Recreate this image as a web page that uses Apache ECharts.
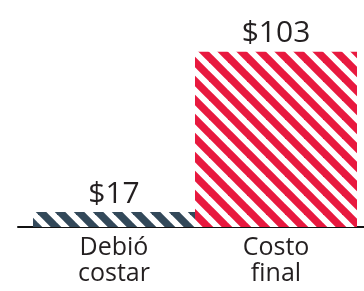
<!DOCTYPE html>
<html>
<head>
<meta charset="utf-8">
<script src="https://cdn.jsdelivr.net/npm/echarts@6/dist/echarts.min.js"></script>
<style>
  html, body { margin: 0; padding: 0; background: #fff; }
  #chart { width: 364px; height: 291px; }
</style>
</head>
<body>
<div id="chart"></div>
<script>
const categories = ['Debió\ncostar', 'Costo\nfinal'];
const costs = [17, 103];
const barColors = ['#33495a', '#e8193f'];

// diagonal stripe tile: "\" stripes over white, lines run past the tile edges
const stripes = (color, size, width) => {
  const c = document.createElement('canvas');
  c.width = size;
  c.height = size;
  const ctx = c.getContext('2d');
  ctx.fillStyle = '#fff';
  ctx.fillRect(0, 0, size, size);
  ctx.strokeStyle = color;
  ctx.lineWidth = width;
  [-size, 0, size].forEach(k => {
    ctx.beginPath();
    ctx.moveTo(k - size, -size);
    ctx.lineTo(k + 2 * size, 2 * size);
    ctx.stroke();
  });
  return { image: c, repeat: 'repeat' };
};

const chart = echarts.init(document.getElementById('chart'));
const font = '"Open Sans", "Noto Sans", sans-serif';

chart.setOption({
  animation: false,
  backgroundColor: '#fff',
  grid: [
    { left: 33, right: 7, top: 20, bottom: 64 },
    { left: 18, right: 0, top: 20, bottom: 64 }
  ],
  xAxis: [
    {
      type: 'category',
      data: categories,
      gridIndex: 0,
      axisLine: { show: false },
      axisTick: { show: false },
      axisLabel: {
        color: '#231f20',
        fontFamily: font,
        fontSize: 25,
        lineHeight: 26,
        margin: 8
      }
    },
    {
      type: 'category',
      gridIndex: 1,
      data: [''],
      axisLine: { lineStyle: { color: '#111', width: 2 } },
      axisTick: { show: false },
      axisLabel: { show: false }
    }
  ],
  yAxis: [
    { type: 'value', gridIndex: 0, min: 9, max: 120, show: false },
    { type: 'value', gridIndex: 1, show: false }
  ],
  series: [
    {
      type: 'bar',
      xAxisIndex: 0,
      yAxisIndex: 0,
      barCategoryGap: 0,
      clip: true,
      data: costs.map((v, i) => ({
        value: v,
        itemStyle: { color: stripes(barColors[i], 19, 7.5) }
      })),
      label: {
        show: true,
        position: 'top',
        distance: 3,
        formatter: p => '$' + p.value,
        color: '#231f20',
        fontFamily: font,
        fontSize: 30
      }
    }
  ]
});
</script>
</body>
</html>
